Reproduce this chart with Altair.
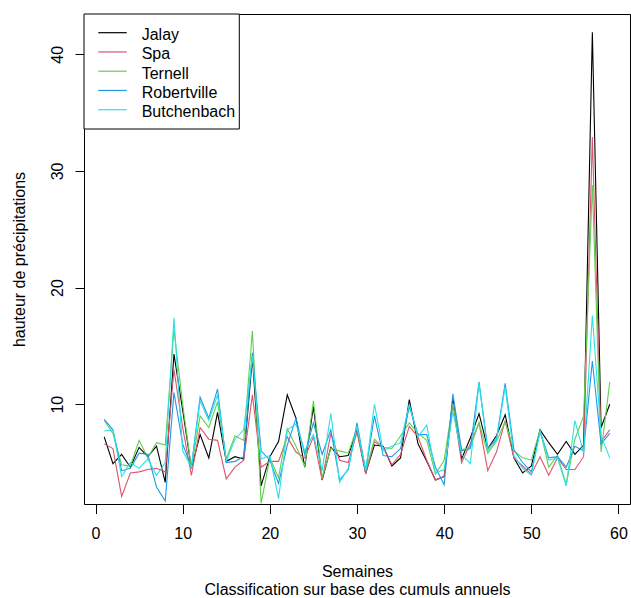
import altair as alt
import pandas as pd

# Weekly precipitation depth per station (weeks 1..59)
weeks = list(range(1, 60))
stations = ["Jalay", "Spa", "Ternell", "Robertville", "Butchenbach"]
colors = ["#000000", "#DF536B", "#61D04F", "#2297E6", "#28E2E5"]

jalay = [7.2, 4.9, 5.7, 4.6, 6.3, 5.5, 6.4, 3.3, 14.3, 9.5,
         4.5, 7.4, 5.4, 9.3, 5.1, 5.5, 5.3, 14.0, 3.0, 5.5,
         6.8, 10.8, 8.8, 4.6, 9.8, 3.5, 6.3, 5.5, 5.6, 7.8,
         4.1, 6.5, 6.4, 4.7, 5.4, 10.4, 6.6, 5.1, 3.5, 3.8,
         10.5, 5.3, 7.1, 9.2, 6.2, 7.3, 9.1, 5.4, 4.1, 4.7,
         7.8, 6.7, 5.7, 6.8, 5.7, 6.5, 41.9, 8.0, 10.0]
spa = [6.6, 6.2, 2.1, 4.1, 4.2, 4.4, 4.5, 4.2, 13.0, 8.0,
       3.9, 8.0, 7.0, 6.9, 3.6, 4.6, 5.2, 10.8, 4.6, 5.1,
       5.1, 7.2, 5.9, 5.4, 7.2, 3.5, 7.5, 5.2, 5.0, 7.6,
       4.0, 6.8, 6.3, 4.8, 5.7, 8.1, 7.2, 5.2, 3.5, 3.8,
       10.0, 5.0, 6.6, 8.4, 4.3, 5.9, 8.6, 5.4, 4.7, 4.0,
       5.5, 3.9, 5.4, 4.4, 4.4, 5.5, 32.9, 6.8, 7.8]
ternell = [8.6, 7.5, 4.8, 4.7, 6.9, 5.4, 6.7, 6.5, 16.4, 10.0,
           4.5, 9.0, 8.0, 10.2, 5.3, 7.3, 6.9, 16.3, 1.5, 5.4,
           3.7, 7.9, 6.4, 4.7, 10.3, 3.7, 6.2, 6.0, 5.8, 8.0,
           4.3, 7.0, 6.3, 6.2, 7.3, 8.4, 7.5, 6.9, 4.0, 5.2,
           10.1, 6.1, 6.3, 8.4, 5.8, 6.8, 8.5, 6.0, 5.4, 5.2,
           7.8, 4.6, 5.6, 3.1, 7.0, 9.0, 28.8, 5.9, 11.9]
robertville = [8.7, 7.8, 4.3, 4.5, 5.8, 5.7, 2.9, 1.7, 11.0, 6.6,
               4.6, 10.6, 8.8, 11.3, 5.0, 5.1, 5.5, 14.4, 6.0, 5.2,
               3.2, 6.5, 8.8, 5.7, 8.4, 5.7, 7.8, 3.5, 4.4, 8.4,
               4.3, 9.0, 5.6, 5.5, 6.2, 9.8, 7.4, 7.4, 4.6, 3.1,
               10.9, 6.0, 6.2, 11.9, 6.2, 7.0, 11.8, 6.1, 5.0, 4.2,
               7.7, 5.4, 5.5, 4.6, 6.4, 6.0, 13.7, 6.6, 7.5]
butchenbach = [7.7, 7.8, 3.8, 5.0, 4.5, 5.3, 3.9, 5.0, 17.4, 6.0,
               4.6, 10.3, 8.6, 10.8, 5.1, 7.0, 7.8, 14.1, 5.3, 5.6,
               1.9, 7.8, 8.3, 6.0, 7.4, 4.3, 9.2, 3.3, 4.5, 8.1,
               4.3, 10.0, 6.0, 6.4, 6.7, 10.0, 7.2, 8.2, 4.1, 4.4,
               9.4, 5.7, 4.9, 11.8, 6.0, 6.9, 11.5, 5.6, 4.5, 3.9,
               7.7, 5.2, 5.4, 3.0, 8.6, 5.8, 17.6, 7.3, 5.4]

series = [jalay, spa, ternell, robertville, butchenbach]
x_ticks = [0, 10, 20, 30, 40, 50, 60]
y_ticks = [10, 20, 30, 40]

FONT = "Liberation Sans"
W, H = 546, 490

rows = []
for name, vals in zip(stations, series):
    for w, v in zip(weeks, vals):
        rows.append({"semaine": w, "hauteur": v, "station": name})
df = pd.DataFrame(rows)

# Axis ranges extended by 4% on each side of the first series' range
x_lo, x_hi = min(weeks), max(weeks)
y_lo, y_hi = min(jalay), max(jalay)
xpad = 0.04 * (x_hi - x_lo)
ypad = 0.04 * (y_hi - y_lo)
x_scale = alt.Scale(domain=[x_lo - xpad, x_hi + xpad], nice=False, zero=False)
y_scale = alt.Scale(domain=[y_lo - ypad, y_hi + ypad], nice=False, zero=False)
color_scale = alt.Scale(domain=stations, range=colors)

x_axis = alt.Axis(
    values=x_ticks, domain=False, grid=False, tickSize=9.5, tickColor="#000",
    tickWidth=1, labelFontSize=16, labelFont=FONT, labelColor="#000",
    labelPadding=12, labelFlush=False,
    title=["Semaines", "Classification sur base des cumuls annuels"],
    titleFontSize=16, titleFont=FONT, titleFontWeight="normal",
    titleColor="#000", titleLineHeight=18, titlePadding=22,
)
y_axis = alt.Axis(
    values=y_ticks, domain=False, grid=False, tickSize=9, tickColor="#000",
    tickWidth=1, labelFontSize=16, labelFont=FONT, labelColor="#000",
    labelAngle=270, labelPadding=10, labelFlush=False,
    title="hauteur de précipitations", titleFontSize=16, titleFont=FONT,
    titleFontWeight="normal", titleColor="#000", titlePadding=22,
)

base = alt.Chart(df)
layers = []
for i, name in enumerate(stations):
    layers.append(
        base.transform_filter(alt.datum.station == name)
        .mark_line(strokeWidth=1.1, clip=True)
        .encode(
            x=alt.X("semaine:Q", scale=x_scale, axis=x_axis),
            y=alt.Y("hauteur:Q", scale=y_scale,
                    axis=y_axis if i == 0 else None),
            color=alt.Color("station:N", scale=color_scale, legend=None),
            order="semaine:Q",
        )
    )

# Legend drawn in the top-left corner of the plot
leg_df = pd.DataFrame({"station": stations, "rang": list(range(len(stations)))})
leg_y = alt.Scale(domain=[0, len(stations) - 1], range=[18.7, 95.7])

leg_box = alt.Chart(leg_df.head(1)).mark_rect(
    fill="white", stroke="#000", strokeWidth=1
).encode(
    x=alt.value(0), x2=alt.value(155.3), y=alt.value(0), y2=alt.value(115)
)
leg_lines = alt.Chart(leg_df).mark_rule(strokeWidth=1.2).encode(
    x=alt.value(14.3), x2=alt.value(42.7),
    y=alt.Y("rang:Q", scale=leg_y, axis=None),
    color=alt.Color("station:N", scale=color_scale, legend=None),
)
leg_text = alt.Chart(leg_df).mark_text(
    align="left", baseline="alphabetic", dy=7.5, fontSize=16, font=FONT,
    color="#000",
).encode(
    x=alt.value(57.7),
    y=alt.Y("rang:Q", scale=leg_y, axis=None),
    text="station:N",
)

chart = (
    alt.layer(*layers, leg_box, leg_lines, leg_text)
    .resolve_scale(y="independent")
    .properties(
        width=W, height=H,
        autosize=alt.AutoSizeParams(type="none"),
        padding={"left": 84, "top": 14, "right": 1, "bottom": 94},
        background="white",
    )
    .configure_view(stroke="#000", strokeWidth=1)
)

chart.save("out.html", embed_options={"renderer": "svg", "actions": False})
